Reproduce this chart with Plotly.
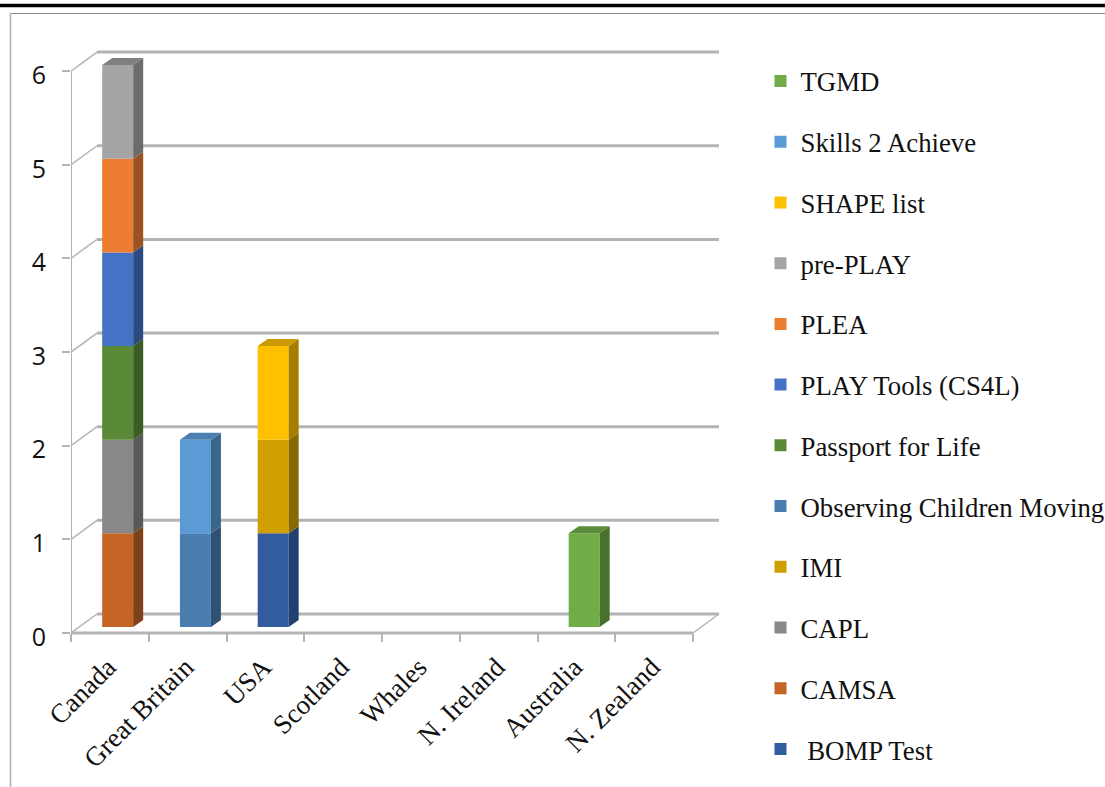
import plotly.graph_objects as go

categories = ["Canada", "Great Britain", "USA", "Scotland", "Whales", "N. Ireland", "Australia", "N. Zealand"]

# stacking order, bottom to top
BOMP_Test = [0, 0, 1, 0, 0, 0, 0, 0]
CAMSA = [1, 0, 0, 0, 0, 0, 0, 0]
CAPL = [1, 0, 0, 0, 0, 0, 0, 0]
IMI = [0, 0, 1, 0, 0, 0, 0, 0]
Observing = [0, 1, 0, 0, 0, 0, 0, 0]
Passport = [1, 0, 0, 0, 0, 0, 0, 0]
PLAY_Tools = [1, 0, 0, 0, 0, 0, 0, 0]
PLEA = [1, 0, 0, 0, 0, 0, 0, 0]
pre_PLAY = [1, 0, 0, 0, 0, 0, 0, 0]
SHAPE_list = [0, 0, 1, 0, 0, 0, 0, 0]
Skills = [0, 1, 0, 0, 0, 0, 0, 0]
TGMD = [0, 0, 0, 0, 0, 0, 1, 0]

series = [
    (" BOMP Test", BOMP_Test, "#335C9F", "#22406F", "#2A4E86"),
    ("CAMSA", CAMSA, "#C46525", "#7F4118", "#A05220"),
    ("CAPL", CAPL, "#888888", "#595959", "#6E6E6E"),
    ("IMI", IMI, "#D19E00", "#8A6800", "#A88000"),
    ("Observing Children Moving", Observing, "#4A7EB1", "#2F5273", "#3C6690"),
    ("Passport for Life", Passport, "#5A8A37", "#3C5C25", "#4A722D"),
    ("PLAY Tools (CS4L)", PLAY_Tools, "#4472C4", "#2C4A80", "#3760A8"),
    ("PLEA", PLEA, "#ED7D31", "#9A5220", "#C06628"),
    ("pre-PLAY", pre_PLAY, "#A5A5A5", "#6C6C6C", "#808080"),
    ("SHAPE list", SHAPE_list, "#FFC000", "#A67D00", "#CC9A00"),
    ("Skills 2 Achieve", Skills, "#5B9BD5", "#3B658B", "#4A80B0"),
    ("TGMD", TGMD, "#70AD47", "#49702E", "#5B8D3A"),
]
y_ticks = [0, 1, 2, 3, 4, 5, 6]

W, H = 1105, 787
X0, Y0 = 71, 633            # pixel of the front axes origin
PX_X, PX_Y = 77.75, 93.65   # pixels per category / per unit
DOM_L, DOM_R, DOM_B, DOM_T = 71, 735, 665, 20

def ux(p):
    return p / PX_X

def uy(p):
    return p / PX_Y

WALL_DX, WALL_DY = ux(26), uy(19)     # depth of the back wall
BAR_DX, BAR_DY = ux(7.8), uy(6)       # front plane of the bars
SIDE_DX, SIDE_DY = ux(10), uy(7)      # depth of each bar
BAR_W = ux(31)
n = len(categories)
totals = [sum(s[1][i] for s in series) for i in range(n)]

fig = go.Figure()
cum = [0] * n
polys = []
for rank, (name, vals, col, side, top) in enumerate(series):
    xs = [i + 0.5 + BAR_DX for i in range(n)]
    bases = [c + BAR_DY for c in cum]
    fig.add_trace(go.Bar(x=xs, y=vals, base=bases, width=BAR_W, name=name,
                         marker=dict(color=col, line=dict(width=0)),
                         legendgroup=name, legendrank=1000 - rank, xaxis="x", yaxis="y"))
    for i, v in enumerate(vals):
        if v:
            r = xs[i] + BAR_W / 2
            l = xs[i] - BAR_W / 2
            b = bases[i]
            t = b + v
            polys.append(([r, r + SIDE_DX, r + SIDE_DX, r, r], [b, b + SIDE_DY, t + SIDE_DY, t, b], side))
            if cum[i] + v == totals[i]:
                polys.append(([l, l + SIDE_DX, r + SIDE_DX, r, l], [t, t + SIDE_DY, t + SIDE_DY, t, t], top))
    cum = [c + v for c, v in zip(cum, vals)]

for px_, py_, colr in polys:
    fig.add_trace(go.Scatter(x=px_, y=py_, mode="lines", fill="toself", fillcolor=colr,
                             line=dict(width=0, color=colr), showlegend=False, hoverinfo="skip",
                             xaxis="x", yaxis="y"))

# dummy trace so the label axis is live
fig.add_trace(go.Scatter(x=[0.5], y=[0], xaxis="x2", yaxis="y", mode="markers",
                         marker=dict(opacity=0), showlegend=False, hoverinfo="skip"))

GRID = "#B4B4B4"
shapes = []
for v in y_ticks:
    shapes.append(dict(type="line", xref="x", yref="y", layer="below", x0=0, y0=v, x1=WALL_DX, y1=v + WALL_DY,
                       line=dict(color=GRID, width=1.5)))
    shapes.append(dict(type="line", xref="x", yref="y", layer="below", x0=WALL_DX, y0=v + WALL_DY, x1=n + WALL_DX, y1=v + WALL_DY,
                       line=dict(color=GRID, width=3)))
shapes += [
    dict(type="line", xref="x", yref="y", layer="below", x0=0, y0=0, x1=n, y1=0, line=dict(color=GRID, width=3)),
    dict(type="line", xref="x", yref="y", layer="below", x0=n, y0=0, x1=n + WALL_DX, y1=WALL_DY, line=dict(color=GRID, width=1.5)),
    dict(type="line", xref="x", yref="y", layer="below", x0=0, y0=0, x1=0, y1=max(y_ticks), line=dict(color=GRID, width=2)),
    # page frame
    dict(type="line", xref="paper", yref="paper", x0=0, x1=1, y0=1 - 5.5 / H, y1=1 - 5.5 / H, line=dict(color="black", width=3.5)),
    dict(type="line", xref="paper", yref="paper", x0=10.5 / W, x1=1, y0=1 - 13.5 / H, y1=1 - 13.5 / H, line=dict(color="#8C8C8C", width=1)),
    dict(type="line", xref="paper", yref="paper", x0=10.5 / W, x1=10.5 / W, y0=0, y1=1 - 13.5 / H, line=dict(color="#B0B0B0", width=1.5)),
]

x_range = [0, ux(DOM_R - X0)]
xpos = (H - Y0) / H
fig.update_layout(
    width=W, height=H, margin=dict(l=0, r=0, t=0, b=0, autoexpand=False), autosize=False,
    paper_bgcolor="white", plot_bgcolor="rgba(0,0,0,0)", barmode="overlay", shapes=shapes,
    showlegend=True,
    xaxis=dict(domain=[DOM_L / W, DOM_R / W], range=x_range, anchor="free", position=xpos,
               tickmode="array", tickvals=list(range(n + 1)), showticklabels=False,
               ticks="outside", ticklen=8, tickcolor=GRID, tickwidth=1.5,
               showgrid=False, zeroline=False, showline=False),
    xaxis2=dict(domain=[DOM_L / W, DOM_R / W], range=x_range, overlaying="x", anchor="free", position=xpos,
                tickmode="array", tickvals=[i + 0.5 for i in range(n)], ticktext=categories,
                tickangle=-45, ticks="", ticklabelstandoff=12, ticklabelshift=-2,
                tickfont=dict(family="Liberation Serif", size=27, color="#111111"),
                showgrid=False, zeroline=False, showline=False),
    yaxis=dict(domain=[(H - DOM_B) / H, (H - DOM_T) / H], range=[uy(Y0 - DOM_B), uy(Y0 - DOM_T)],
               tickmode="array", tickvals=y_ticks, ticks="outside", ticklen=8, tickcolor=GRID, tickwidth=1.5,
               ticklabelstandoff=11, ticklabelshift=4,
               tickfont=dict(family="Open Sans", size=25, color="#111111"),
               showgrid=False, zeroline=False, showline=False),
    legend=dict(x=768.5 / W, y=1 - 57 / H, xanchor="left", yanchor="top", traceorder="grouped",
                tracegroupgap=22.9, indentation=-8, itemwidth=30, bgcolor="rgba(0,0,0,0)",
                font=dict(family="Liberation Serif", size=26.8, color="#111111")),
)

fig.write_html("out.html", config=dict(displayModeBar=False),
               post_script="document.body.style.margin='0';document.body.style.overflow='hidden';")
